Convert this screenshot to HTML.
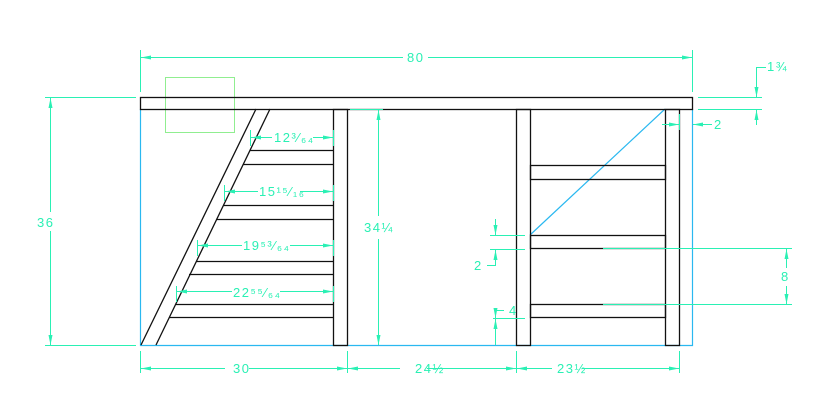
<!DOCTYPE html>
<html><head><style>
html,body{margin:0;padding:0;background:#fff;}
svg{display:block;}
text{font-family:"Liberation Sans",sans-serif;font-size:13px;fill:#2af0b4;letter-spacing:1.5px;}
</style></head><body>
<svg width="836" height="420" viewBox="0 0 836 420" xmlns="http://www.w3.org/2000/svg">
<defs>
<marker id="a" viewBox="0 0 10 4" refX="10" refY="2" markerWidth="10" markerHeight="4" markerUnits="userSpaceOnUse" orient="auto-start-reverse"><path d="M0,0 L10,2 L0,4 z" fill="#2af0b4"/></marker>
</defs>
<g stroke="#2ab8f0" stroke-width="1.2" fill="none">
<path d="M140.5,109 V345.5 H692.5 V109"/>
<line x1="530" y1="235" x2="665" y2="109"/>
</g>
<rect x="165.5" y="77.5" width="69" height="55" fill="none" stroke="#90ee90" stroke-width="1"/>
<g stroke="#111" stroke-width="1.3" fill="none">
<rect x="140.5" y="97.5" width="552" height="12"/>
<rect x="333.5" y="109.5" width="14" height="236"/>
<rect x="516.5" y="109.5" width="14" height="236"/>
<rect x="665.5" y="109.5" width="14" height="236"/>
<rect x="530.5" y="165.5" width="135" height="14"/>
<rect x="530.5" y="235.5" width="135" height="13"/>
<rect x="530.5" y="304.5" width="135" height="13"/>
<line x1="256" y1="109" x2="141" y2="345"/>
<line x1="270" y1="109" x2="156" y2="345"/>
<line x1="250" y1="150.5" x2="333" y2="150.5"/>
<line x1="243.5" y1="164.5" x2="333" y2="164.5"/>
<line x1="223" y1="205.5" x2="333" y2="205.5"/>
<line x1="216" y1="219.5" x2="333" y2="219.5"/>
<line x1="196" y1="261.5" x2="333" y2="261.5"/>
<line x1="189" y1="274.5" x2="333" y2="274.5"/>
<line x1="175" y1="304.5" x2="333" y2="304.5"/>
<line x1="169" y1="317.5" x2="333" y2="317.5"/>
</g>
<g stroke="#2af0b4" stroke-width="1" fill="none">
<line x1="140.5" y1="50" x2="140.5" y2="92"/><line x1="692.5" y1="50" x2="692.5" y2="92"/>
<line x1="141" y1="57.5" x2="403" y2="57.5" marker-start="url(#a)"/><line x1="428" y1="57.5" x2="692" y2="57.5" marker-end="url(#a)"/>
<line x1="45" y1="97.5" x2="136" y2="97.5"/><line x1="45" y1="345.5" x2="136" y2="345.5"/>
<line x1="50.5" y1="98" x2="50.5" y2="212" marker-start="url(#a)"/><line x1="50.5" y1="231" x2="50.5" y2="345" marker-end="url(#a)"/>
<line x1="350" y1="109.5" x2="383" y2="109.5"/>
<line x1="378.5" y1="110" x2="378.5" y2="216" marker-start="url(#a)"/><line x1="378.5" y1="239" x2="378.5" y2="345" marker-end="url(#a)"/>
<line x1="140.5" y1="351" x2="140.5" y2="373"/><line x1="347.5" y1="351" x2="347.5" y2="373"/><line x1="516.5" y1="351" x2="516.5" y2="373"/><line x1="679.5" y1="351" x2="679.5" y2="373"/>
<line x1="141" y1="368.5" x2="225" y2="368.5" marker-start="url(#a)"/><line x1="249" y1="368.5" x2="347" y2="368.5" marker-end="url(#a)"/>
<line x1="348" y1="368.5" x2="400" y2="368.5" marker-start="url(#a)"/><line x1="427" y1="368.5" x2="516" y2="368.5" marker-end="url(#a)"/>
<line x1="517" y1="368.5" x2="552" y2="368.5" marker-start="url(#a)"/><line x1="582" y1="368.5" x2="679" y2="368.5" marker-end="url(#a)"/>
<line x1="250.5" y1="130" x2="250.5" y2="146"/><line x1="333.5" y1="130" x2="333.5" y2="146"/>
<line x1="251" y1="137.5" x2="272" y2="137.5" marker-start="url(#a)"/><line x1="313" y1="137.5" x2="333" y2="137.5" marker-end="url(#a)"/>
<line x1="224.5" y1="185" x2="224.5" y2="201"/><line x1="333.5" y1="185" x2="333.5" y2="201"/>
<line x1="225" y1="191.5" x2="258" y2="191.5" marker-start="url(#a)"/><line x1="300" y1="191.5" x2="333" y2="191.5" marker-end="url(#a)"/>
<line x1="197.5" y1="240" x2="197.5" y2="256"/><line x1="333.5" y1="240" x2="333.5" y2="256"/>
<line x1="198" y1="245.5" x2="242" y2="245.5" marker-start="url(#a)"/><line x1="290" y1="245.5" x2="333" y2="245.5" marker-end="url(#a)"/>
<line x1="176.5" y1="286" x2="176.5" y2="302"/><line x1="333.5" y1="286" x2="333.5" y2="302"/>
<line x1="177" y1="291.5" x2="232" y2="291.5" marker-start="url(#a)"/><line x1="280" y1="291.5" x2="333" y2="291.5" marker-end="url(#a)"/>
<line x1="698" y1="97.5" x2="762" y2="97.5"/><line x1="698" y1="109.5" x2="762" y2="109.5"/>
<polyline points="766,67.5 756.5,67.5 756.5,97" marker-end="url(#a)"/>
<line x1="756.5" y1="125" x2="756.5" y2="110" marker-end="url(#a)"/>
<line x1="679.5" y1="114" x2="679.5" y2="130"/>
<line x1="662" y1="124.5" x2="679" y2="124.5" marker-end="url(#a)"/>
<line x1="712" y1="124.5" x2="693" y2="124.5" marker-end="url(#a)"/>
<line x1="603" y1="248.5" x2="792" y2="248.5"/><line x1="603" y1="304.5" x2="792" y2="304.5"/>
<line x1="786.5" y1="249" x2="786.5" y2="268" marker-start="url(#a)"/><line x1="786.5" y1="286" x2="786.5" y2="304" marker-end="url(#a)"/>
<line x1="490" y1="235.5" x2="525" y2="235.5"/><line x1="490" y1="249.5" x2="525" y2="249.5"/>
<line x1="495.5" y1="219" x2="495.5" y2="235" marker-end="url(#a)"/>
<polyline points="487,265.5 495.5,265.5 495.5,250" marker-end="url(#a)"/>
<line x1="493" y1="318.5" x2="525" y2="318.5"/>
<polyline points="504,310.5 495.5,310.5 495.5,318" marker-end="url(#a)"/>
<line x1="495.5" y1="345" x2="495.5" y2="319" marker-end="url(#a)"/>
</g>
<g>
<text x="407" y="62">80</text>
<text x="37" y="227">36</text>
<text x="364" y="232">34¼</text>
<text x="233" y="373">30</text>
<text x="415" y="373">24½</text>
<text x="557" y="373">23½</text>
<text x="274" y="142">12³⁄₆₄</text>
<text x="259" y="196">15¹⁵⁄₁₆</text>
<text x="243" y="250">19⁵³⁄₆₄</text>
<text x="233" y="297">22⁵⁵⁄₆₄</text>
<text x="767" y="71">1¾</text>
<text x="714" y="129">2</text>
<text x="781" y="281">8</text>
<text x="474" y="270">2</text>
<text x="509" y="315">4</text>
</g>
</svg>
</body></html>
